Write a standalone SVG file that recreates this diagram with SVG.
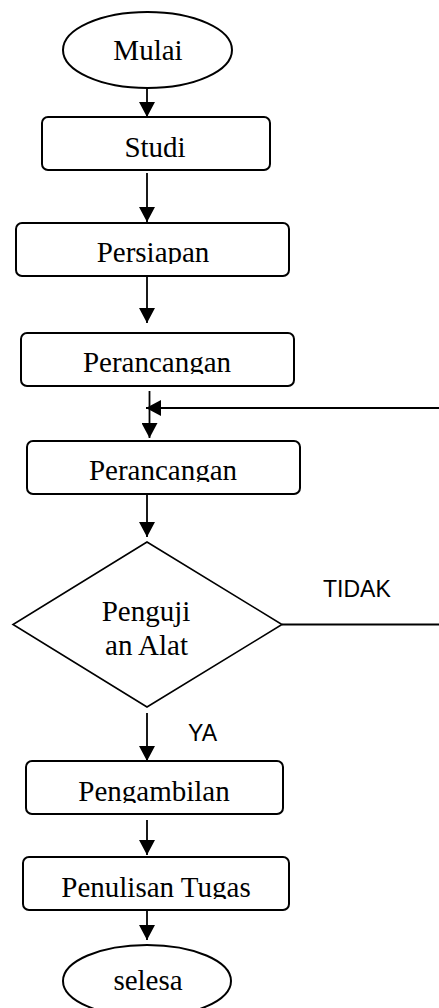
<svg xmlns="http://www.w3.org/2000/svg" width="439" height="1008" viewBox="0 0 439 1008">
<style>
.shape{fill:#fff;stroke:#000;stroke-width:2}
.dia{fill:#fff;stroke:#000;stroke-width:1.6}
.lbl{font-family:"Liberation Serif","Times New Roman",serif;font-size:29px;fill:#000;text-anchor:middle}
.tag{font-family:"Liberation Sans",Arial,sans-serif;font-size:23px;fill:#000}
.con{stroke:#000;stroke-width:1.8;fill:none}
</style>
<defs>
<marker id="ah" markerUnits="userSpaceOnUse" markerWidth="16" markerHeight="16" refX="15" refY="8" orient="auto">
<path d="M0,0 L15,8 L0,16 z" fill="#000"/>
</marker>
<clipPath id="c1"><rect x="0" y="0" width="439" height="62"/></clipPath>
<clipPath id="c2"><rect x="0" y="100" width="439" height="59"/></clipPath>
<clipPath id="c3"><rect x="0" y="220" width="439" height="44"/></clipPath>
<clipPath id="c4"><rect x="0" y="330" width="439" height="44"/></clipPath>
<clipPath id="c5"><rect x="0" y="440" width="439" height="42"/></clipPath>
<clipPath id="c6"><rect x="0" y="760" width="439" height="43"/></clipPath>
<clipPath id="c7"><rect x="0" y="855" width="439" height="44"/></clipPath>
<clipPath id="c8"><rect x="0" y="945" width="439" height="47"/></clipPath>
</defs>
<g id="connectors">
<line class="con" x1="147" y1="88" x2="147" y2="117" marker-end="url(#ah)"/>
<line class="con" x1="147" y1="173" x2="147" y2="222" marker-end="url(#ah)"/>
<line class="con" x1="147" y1="276" x2="147" y2="323" marker-end="url(#ah)"/>
<line class="con" x1="149.5" y1="391" x2="149.5" y2="438" marker-end="url(#ah)"/>
<line class="con" x1="440" y1="408" x2="146" y2="408" marker-end="url(#ah)"/>
<line class="con" x1="147" y1="494" x2="147" y2="537" marker-end="url(#ah)"/>
<line class="con" x1="282" y1="624.5" x2="440" y2="624.5"/>
<line class="con" x1="147" y1="713" x2="147" y2="761" marker-end="url(#ah)"/>
<line class="con" x1="147" y1="820" x2="147" y2="855" marker-end="url(#ah)"/>
<line class="con" x1="147" y1="911" x2="147" y2="940" marker-end="url(#ah)"/>
<text class="tag" x="323" y="597">TIDAK</text>
<text class="tag" x="188" y="741">YA</text>
</g>
<g id="mulai">
<ellipse class="shape" cx="147.5" cy="50" rx="84.5" ry="38"/>
<text class="lbl" x="148" y="60" clip-path="url(#c1)">Mulai</text>
</g>
<g id="studi">
<rect class="shape" x="42" y="117" width="228" height="53" rx="6"/>
<text class="lbl" x="155" y="157" clip-path="url(#c2)">Studi</text>
</g>
<g id="persiapan">
<rect class="shape" x="16" y="223" width="273" height="53" rx="6"/>
<text class="lbl" x="153" y="262" clip-path="url(#c3)">Persiapan</text>
</g>
<g id="perancangan1">
<rect class="shape" x="21" y="333" width="273" height="53" rx="6"/>
<text class="lbl" x="157" y="372" clip-path="url(#c4)">Perancangan</text>
</g>
<g id="perancangan2">
<rect class="shape" x="27" y="441" width="273" height="53" rx="6"/>
<text class="lbl" x="163" y="480" clip-path="url(#c5)">Perancangan</text>
</g>
<g id="pengujian">
<polygon class="dia" points="147,542 282,624.5 147,707 13,624.5"/>
<text class="lbl" x="146" y="621">Penguji</text>
<text class="lbl" x="146.5" y="655">an Alat</text>
</g>
<g id="pengambilan">
<rect class="shape" x="26" y="761" width="257" height="53" rx="6"/>
<text class="lbl" x="154" y="801" clip-path="url(#c6)">Pengambilan</text>
</g>
<g id="penulisan">
<rect class="shape" x="23" y="857" width="266" height="53" rx="6"/>
<text class="lbl" x="156" y="897" clip-path="url(#c7)">Penulisan Tugas</text>
</g>
<g id="selesai">
<ellipse class="shape" cx="147" cy="981" rx="84" ry="36"/>
<text class="lbl" x="148" y="990" clip-path="url(#c8)">selesa</text>
</g>
</svg>
